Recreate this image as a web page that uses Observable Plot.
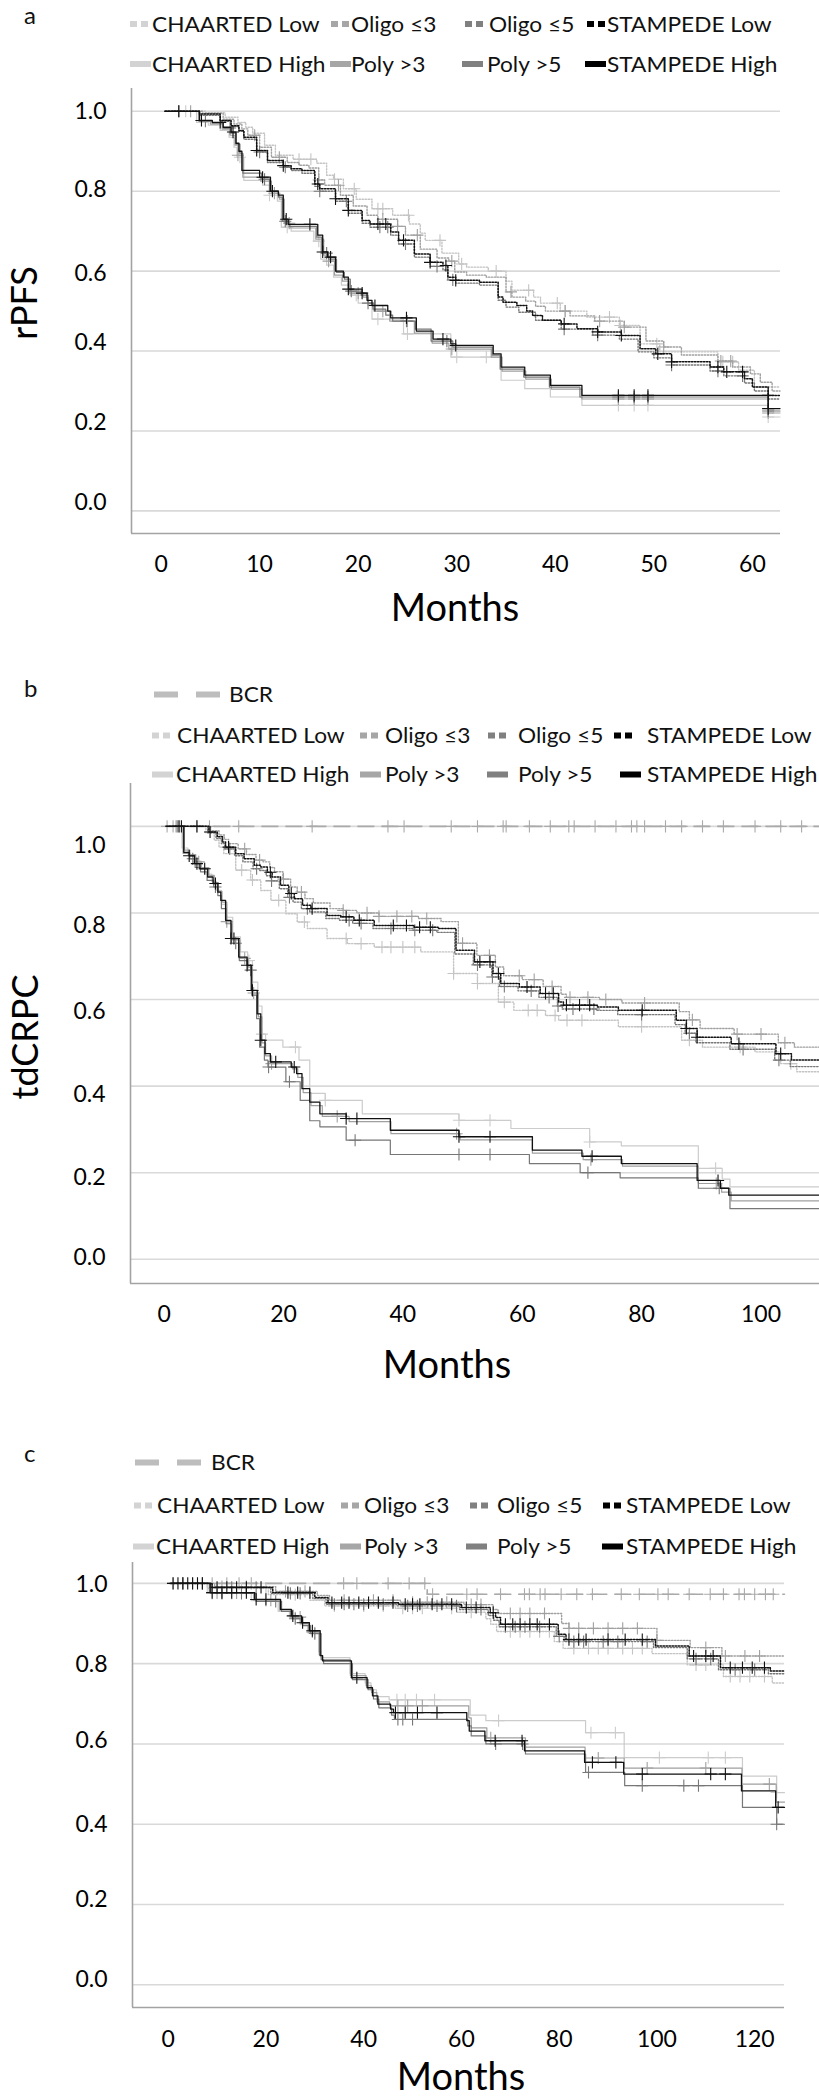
<!DOCTYPE html>
<html>
<head>
<meta charset="utf-8">
<script src="https://cdn.jsdelivr.net/npm/d3@7"></script>
<script src="https://cdn.jsdelivr.net/npm/@observablehq/plot@0.6"></script>
<style>
html,body{margin:0;padding:0;background:#fff;}
#page{position:relative;width:819px;height:2099px;overflow:hidden;background:#fff;font-family:Lato,"Open Sans",sans-serif;}
#page .panel{position:absolute;left:0;}
#overlay{position:absolute;left:0;top:0;pointer-events:none;}
</style>
</head>
<body>
<div id="page"></div>
<script>
// ---------------- shared labels / ticks ----------------
const seriesNames = ["CHAARTED Low","Oligo ≤3","Oligo ≤5","STAMPEDE Low","CHAARTED High","Poly >3","Poly >5","STAMPEDE High"];
const yTicks = [0, 0.2, 0.4, 0.6, 0.8, 1.0];
const xTicksA = [0, 10, 20, 30, 40, 50, 60];
const xTicksB = [0, 20, 40, 60, 80, 100];
const xTicksC = [0, 20, 40, 60, 80, 100, 120];
const yTitleA = "rPFS";
const yTitleB = "tdCRPC";
const xTitle = "Months";
const bcrName = "BCR";

// ---------------- panel a : rPFS  [month, survival] ----------------
const aCHAARTEDLow = [[0.4,1],[4.5,0.996],[6.5,0.985],[7.8,0.972],[8.6,0.96],[9.3,0.945],[10.5,0.915],[11.6,0.89],[13.4,0.88],[15.8,0.87],[16.8,0.84],[17.5,0.83],[18.5,0.806],[19.8,0.78],[21.4,0.756],[23.5,0.74],[25.2,0.718],[26.3,0.695],[26.8,0.677],[28.5,0.645],[30.2,0.618],[31.0,0.61],[33.2,0.6],[35.0,0.575],[35.6,0.552],[37.8,0.535],[38.5,0.52],[40.5,0.5],[43.2,0.485],[46.5,0.464],[48.6,0.418],[50.6,0.398],[56.5,0.373],[58.6,0.352],[60.2,0.31],[62.8,0.31]];
const aOligo3 = [[0.4,1],[4.2,0.995],[6.3,0.98],[7.4,0.968],[8.2,0.956],[8.8,0.94],[10.0,0.91],[11.2,0.885],[12.8,0.872],[14.0,0.865],[15.0,0.858],[16.0,0.828],[16.6,0.815],[18.2,0.79],[19.5,0.763],[20.9,0.74],[22.0,0.73],[24.0,0.712],[24.8,0.69],[26.3,0.655],[28.0,0.633],[29.2,0.625],[29.8,0.598],[31.0,0.59],[33.0,0.585],[35.0,0.548],[35.6,0.535],[37.0,0.525],[38.0,0.512],[39.0,0.5],[41.5,0.488],[44.0,0.475],[47.0,0.46],[49.2,0.425],[51.0,0.41],[52.8,0.39],[56.5,0.375],[58.0,0.36],[59.8,0.343],[60.8,0.322],[62.0,0.3],[62.8,0.3]];
const aOligo5 = [[0.4,1],[3.9,0.99],[6.0,0.975],[7.1,0.962],[7.9,0.95],[8.4,0.93],[9.7,0.898],[10.8,0.872],[12.4,0.86],[13.2,0.852],[14.3,0.845],[15.6,0.812],[16.1,0.8],[17.7,0.775],[19.0,0.745],[20.4,0.72],[21.2,0.71],[23.3,0.69],[24.1,0.668],[25.7,0.635],[27.3,0.612],[28.6,0.603],[29.1,0.578],[29.9,0.57],[32.3,0.565],[34.2,0.527],[35.0,0.51],[36.3,0.497],[38.0,0.477],[40.6,0.455],[43.8,0.44],[46.5,0.43],[48.4,0.398],[50.0,0.383],[51.8,0.365],[55.7,0.35],[57.1,0.338],[59.2,0.32],[60.2,0.3],[61.6,0.28],[62.8,0.28]];
const aSTAMPEDELow = [[0.4,1],[3.9,0.993],[6.0,0.977],[7.1,0.964],[7.9,0.952],[8.4,0.935],[9.7,0.902],[10.8,0.877],[12.4,0.864],[13.2,0.856],[14.3,0.852],[15.6,0.818],[16.1,0.806],[17.7,0.781],[19.0,0.752],[20.4,0.727],[21.2,0.718],[23.3,0.698],[24.1,0.677],[25.7,0.643],[27.3,0.622],[28.6,0.614],[29.1,0.585],[29.9,0.577],[32.3,0.572],[34.2,0.535],[34.7,0.522],[36.1,0.514],[37.1,0.5],[37.7,0.489],[38.7,0.477],[40.6,0.468],[42.2,0.456],[44.3,0.448],[46.7,0.439],[48.6,0.406],[50.2,0.393],[51.8,0.373],[55.7,0.36],[57.1,0.348],[59.2,0.331],[60.0,0.31],[61.6,0.289],[62.8,0.289]];
const aCHAARTEDHigh = [[0.4,1],[3.6,0.972],[4.8,0.965],[6.0,0.952],[6.9,0.935],[7.4,0.91],[7.7,0.885],[8.4,0.827],[10.3,0.815],[11.0,0.79],[11.8,0.775],[12.2,0.71],[13.2,0.7],[15.5,0.675],[16.2,0.63],[16.8,0.615],[17.5,0.585],[18.3,0.565],[19.2,0.54],[20.0,0.52],[21.4,0.48],[24.6,0.443],[29.4,0.385],[34.5,0.327],[36.9,0.306],[39.5,0.285],[42.7,0.264],[61.6,0.235],[62.8,0.235]];
const aPoly3 = [[0.4,1],[3.8,0.975],[5.0,0.968],[6.2,0.955],[7.0,0.94],[7.5,0.915],[7.8,0.89],[8.3,0.835],[10.1,0.825],[11.2,0.795],[12.0,0.78],[12.5,0.72],[13.1,0.708],[15.7,0.68],[16.5,0.64],[17.0,0.625],[17.6,0.59],[18.4,0.575],[19.1,0.545],[20.5,0.535],[21.0,0.515],[21.6,0.5],[23.2,0.475],[25.7,0.445],[27.5,0.42],[29.2,0.405],[33.5,0.385],[34.6,0.35],[37.0,0.33],[39.6,0.305],[42.7,0.28],[61.6,0.245],[62.8,0.245]];
const aPoly5 = [[0.4,1],[3.9,0.975],[5.2,0.97],[6.3,0.958],[7.1,0.945],[7.6,0.918],[8.0,0.895],[8.3,0.845],[10.2,0.83],[11.0,0.8],[11.9,0.785],[12.3,0.725],[13.0,0.712],[15.8,0.685],[16.3,0.645],[17.0,0.63],[17.8,0.597],[18.6,0.58],[19.2,0.55],[20.3,0.54],[21.0,0.52],[21.5,0.505],[22.8,0.49],[23.5,0.475],[25.8,0.455],[27.4,0.425],[29.6,0.41],[33.6,0.39],[34.4,0.355],[36.8,0.335],[39.4,0.31],[42.5,0.285],[61.6,0.25],[62.8,0.25]];
const aSTAMPEDEHigh = [[0.4,1],[3.9,0.977],[5.2,0.972],[6.3,0.96],[7.1,0.948],[7.6,0.92],[7.9,0.9],[8.2,0.852],[10.0,0.835],[11.1,0.8],[11.9,0.79],[12.4,0.73],[12.9,0.717],[15.9,0.69],[16.4,0.648],[16.9,0.635],[17.7,0.6],[18.5,0.585],[19.0,0.555],[20.4,0.545],[20.9,0.527],[21.4,0.514],[23.0,0.5],[23.3,0.483],[25.9,0.45],[27.6,0.43],[29.4,0.418],[29.9,0.414],[33.7,0.393],[34.5,0.36],[36.9,0.34],[39.5,0.314],[42.7,0.289],[61.6,0.256],[62.8,0.256]];
// censored observations (months)
const aCensCHAARTEDLow = [14.0,15.2,17.6,19.6,22.0,22.5,25.1,28.3,30.5,34.0,37.3,40.2,41.0,45.5,46.6,50.3,57.0,58.0];
const aCensOligo3 = [9.5,12.0,16.0,18.0,22.5,24.0,26.0,29.5,35.5,41.0,44.5,47.0,51.0,56.8,57.8];
const aCensOligo5 = [10.0,12.6,16.1,18.8,22.2,23.0,24.8,28.0,29.6,40.9,44.3,51.8,56.5,59.0];
const aCensSTAMPEDELow = [9.7,12.4,15.9,17.7,19.0,22.0,22.8,24.6,27.3,28.9,29.9,40.9,44.3,46.7,50.4,51.8,56.5,57.4,59.0,61.6];
const aCensCHAARTEDHigh = [2.5,8.0,11.0,12.8,16.0,19.8,22.0,25.0,30.0,33.0,46.4,48.0,49.4,61.6];
const aCensPoly3 = [3.0,7.8,11.5,13.0,17.0,20.0,22.5,25.0,29.5,46.4,48.0,49.4,61.6];
const aCensPoly5 = [1.8,4.5,7.0,10.5,12.6,16.8,19.3,21.0,24.9,29.0,46.4,48.0,49.4,61.6];
const aCensSTAMPEDEHigh = [1.8,4.1,6.0,7.3,10.3,11.3,12.7,15.1,16.4,17.2,19.0,20.4,21.7,24.9,28.6,29.9,46.4,48.0,49.4,61.6];

// ---------------- panel b : tdCRPC ----------------
const bBCR = [[0.3,1],[109.8,1]];
const bCensBCR = [0.5,1.5,2.5,5.5,7.6,12.5,24.8,37.5,40.2,48.1,52.5,56.8,57.3,61.2,64.7,67.8,68.7,72.2,75.7,78.3,79.2,80.5,84.0,86.7,90.2,93.7,99.0,103.3,106.8];
const bCHAARTEDLow = [[0.3,1],[7.0,0.985],[8.4,0.968],[9.2,0.952],[10.0,0.937],[12.0,0.899],[14.5,0.876],[16.2,0.852],[17.9,0.829],[20.4,0.798],[22.3,0.779],[24.0,0.764],[27.3,0.741],[30.7,0.729],[35.2,0.721],[43.0,0.71],[48.5,0.66],[52.5,0.637],[56.0,0.594],[58.6,0.575],[63.9,0.563],[66.1,0.552],[76.1,0.537],[86.7,0.506],[90.2,0.49],[99.0,0.479],[103.3,0.452],[106.0,0.433],[109.8,0.433]];
const bOligo3 = [[0.3,1],[7.8,0.99],[9.2,0.98],[10.1,0.97],[10.8,0.96],[12.4,0.948],[13.8,0.935],[15.4,0.922],[16.6,0.918],[17.7,0.905],[18.5,0.895],[19.9,0.878],[21.2,0.86],[22.3,0.848],[23.6,0.833],[25.0,0.823],[27.8,0.81],[30.0,0.806],[32.3,0.8],[36.0,0.792],[42.6,0.787],[46.4,0.78],[49.3,0.73],[52.4,0.702],[55.5,0.675],[56.9,0.655],[60.0,0.646],[63.5,0.63],[66.5,0.612],[67.4,0.605],[73.0,0.6],[76.7,0.592],[86.3,0.572],[88.0,0.553],[89.8,0.533],[95.5,0.52],[102.9,0.5],[105.6,0.49],[109.8,0.49]];
const bOligo5 = [[0.3,1],[7.3,0.985],[8.7,0.972],[9.6,0.96],[10.2,0.948],[11.8,0.932],[13.2,0.918],[14.9,0.902],[16.0,0.898],[17.1,0.886],[18.0,0.874],[19.3,0.856],[20.7,0.836],[21.6,0.825],[23.0,0.81],[24.4,0.802],[27.1,0.787],[29.4,0.783],[31.6,0.776],[35.0,0.764],[41.7,0.76],[45.7,0.755],[48.7,0.705],[51.8,0.68],[54.9,0.652],[56.2,0.63],[59.3,0.62],[62.8,0.605],[65.9,0.585],[66.7,0.578],[72.4,0.575],[76.0,0.565],[85.6,0.542],[87.3,0.522],[89.1,0.5],[94.8,0.485],[102.3,0.46],[104.9,0.445],[109.8,0.445]];
const bSTAMPEDELow = [[0.3,1],[7.5,0.987],[8.9,0.976],[9.8,0.964],[10.3,0.952],[12.0,0.937],[13.4,0.925],[15.1,0.91],[16.2,0.906],[17.3,0.894],[18.1,0.883],[19.5,0.864],[20.9,0.845],[21.8,0.833],[23.2,0.818],[24.6,0.81],[27.3,0.794],[29.6,0.791],[31.8,0.783],[35.2,0.771],[41.9,0.767],[45.9,0.764],[48.9,0.714],[52.0,0.687],[55.1,0.66],[56.4,0.637],[59.5,0.629],[63.0,0.614],[66.1,0.594],[66.9,0.587],[72.6,0.583],[76.1,0.575],[85.8,0.552],[87.5,0.533],[89.3,0.513],[95.0,0.498],[102.5,0.475],[105.1,0.46],[109.8,0.46]];
const bCHAARTEDHigh = [[0.5,1],[3.0,0.95],[4.0,0.935],[5.0,0.92],[6.2,0.905],[7.0,0.89],[8.0,0.872],[8.8,0.852],[9.6,0.82],[10.5,0.79],[11.5,0.745],[12.8,0.71],[14.0,0.69],[14.8,0.64],[15.7,0.585],[16.4,0.52],[17.0,0.506],[19.9,0.49],[22.6,0.46],[24.4,0.383],[27.0,0.367],[33.2,0.336],[49.4,0.321],[58.1,0.302],[71.3,0.271],[76.6,0.262],[89.5,0.21],[93.5,0.185],[94.8,0.167],[109.8,0.167]];
const bPoly3 = [[0.5,1],[3.4,0.945],[4.3,0.935],[5.3,0.918],[6.2,0.905],[7.5,0.887],[8.4,0.87],[9.1,0.85],[9.7,0.825],[10.5,0.78],[11.4,0.738],[12.7,0.695],[14.1,0.675],[14.8,0.615],[15.8,0.56],[16.4,0.5],[17.0,0.47],[18.0,0.452],[21.5,0.44],[22.4,0.42],[23.3,0.385],[24.6,0.355],[26.5,0.33],[31.0,0.318],[38.0,0.29],[49.6,0.276],[61.7,0.245],[70.2,0.23],[76.8,0.215],[89.5,0.175],[93.4,0.155],[95.0,0.135],[109.8,0.135]];
const bPoly5 = [[0.5,1],[3.2,0.938],[4.3,0.925],[5.2,0.905],[6.1,0.895],[7.2,0.875],[8.3,0.86],[9.0,0.84],[9.6,0.81],[10.4,0.775],[11.3,0.73],[12.6,0.69],[14.0,0.668],[14.7,0.61],[15.5,0.556],[16.0,0.49],[16.8,0.46],[17.4,0.444],[20.4,0.41],[22.8,0.367],[24.4,0.32],[26.1,0.306],[30.5,0.275],[37.9,0.242],[61.2,0.221],[69.7,0.2],[76.4,0.188],[89.5,0.164],[94.8,0.117],[109.8,0.117]];
const bSTAMPEDEHigh = [[0.5,1],[3.3,0.94],[4.2,0.932],[5.1,0.914],[6.0,0.902],[7.3,0.883],[8.2,0.868],[9.0,0.848],[9.5,0.829],[10.3,0.783],[11.2,0.741],[12.5,0.698],[13.9,0.679],[14.6,0.621],[15.6,0.567],[16.2,0.506],[16.9,0.475],[17.8,0.456],[21.3,0.444],[22.2,0.429],[23.1,0.394],[24.4,0.363],[26.1,0.336],[30.5,0.325],[37.9,0.298],[49.4,0.283],[61.7,0.252],[70.0,0.238],[76.6,0.221],[89.3,0.182],[93.2,0.164],[94.6,0.148],[109.8,0.148]];
const bCensCHAARTEDLow = [13.0,14.8,19.2,23.5,30.5,33.0,36.5,38.0,40.0,42.0,48.5,52.5,57.0,61.0,62.5,65.5,67.5,70.0,80.0,88.0,96.5,105.0];
const bCensOligo3 = [13.5,16.0,20.0,23.0,30.0,34.0,36.0,39.0,41.5,44.0,50.0,54.5,59.5,62.0,65.0,68.0,71.0,74.0,80.5,88.5,96.0,100.0,104.0];
const bCensOligo5 = [11.0,15.5,18.0,21.0,24.0,31.0,33.0,38.0,42.0,45.0,52.5,55.0,57.0,61.5,64.5,66.0,68.5,72.0,80.0,88.0,97.0,103.0];
const bCensSTAMPEDELow = [2.9,5.5,7.7,10.8,17.8,21.3,24.8,30.5,32.7,38.4,40.6,42.8,44.6,52.9,54.6,56.0,60.8,63.9,65.2,67.4,69.6,71.3,80.1,87.5,89.3,96.3,103.3];
const bCensCHAARTEDHigh = [14.2,16.4,22.0,27.0,49.4,54.6,71.3,92.4];
const bCensPoly3 = [2.0,5.8,10.5,13.5,15.0,18.0,29.0,49.0,71.5,92.5];
const bCensPoly5 = [2.2,4.8,8.6,12.0,14.5,17.5,21.0,32.0,49.4,54.6,71.0,93.0];
const bCensSTAMPEDEHigh = [2.5,4.2,5.5,6.8,8.6,11.2,11.7,13.9,14.8,16.2,18.7,21.8,30.5,32.3,49.4,54.6,71.7,92.8];

// ---------------- panel c ----------------
const cBCR = [[0.3,1],[53.0,0.973],[126.1,0.973]];
const cCensBCR = [1.0,3.0,5.0,7.0,9.0,12.0,14.5,17.0,35.9,38.6,45.0,49.3,52.5,54.1,61.1,63.2,68.0,72.9,73.9,76.1,77.1,80.4,83.6,86.8,92.7,96.4,100.2,102.3,106.6,110.9,113.6,116.8,117.9,120.0,122.2,123.8];
const cCHAARTEDLow = [[0.5,1],[8.0,0.988],[20.5,0.972],[29.0,0.958],[32.0,0.944],[46.5,0.938],[59.0,0.928],[65.0,0.912],[66.0,0.898],[67.2,0.88],[79.0,0.855],[80.8,0.838],[99.0,0.825],[106.2,0.797],[113.6,0.768],[123.6,0.752],[126.1,0.752]];
const cOligo3 = [[0.5,1],[9.5,0.992],[22.0,0.98],[30.5,0.97],[33.0,0.958],[47.5,0.953],[60.5,0.947],[66.5,0.935],[67.5,0.925],[80.5,0.9],[82.0,0.888],[100.0,0.858],[106.8,0.84],[113.3,0.819],[126.1,0.819]];
const cOligo5 = [[0.5,1],[8.5,0.99],[21.0,0.975],[29.6,0.962],[32.3,0.948],[46.8,0.944],[59.6,0.935],[65.5,0.92],[66.6,0.908],[67.7,0.892],[79.4,0.868],[81.0,0.855],[99.3,0.84],[106.2,0.812],[112.6,0.785],[122.8,0.775],[126.1,0.775]];
const cSTAMPEDELow = [[0.5,1],[9.0,0.99],[21.4,0.977],[30.0,0.965],[32.7,0.952],[47.1,0.948],[60.0,0.94],[65.9,0.927],[67.0,0.915],[68.0,0.898],[79.8,0.873],[81.4,0.86],[99.7,0.844],[106.6,0.819],[113.0,0.79],[123.2,0.782],[126.1,0.782]];
const cCHAARTEDHigh = [[0.5,1],[8.0,0.975],[17.0,0.957],[22.5,0.93],[24.8,0.914],[27.0,0.897],[28.5,0.877],[30.8,0.83],[31.3,0.815],[37.2,0.775],[40.3,0.752],[41.5,0.735],[42.6,0.718],[45.2,0.71],[61.8,0.672],[65.0,0.658],[85.4,0.628],[93.3,0.566],[117.5,0.52],[124.5,0.479],[126.1,0.479]];
const cPoly3 = [[0.5,1],[8.4,0.976],[17.5,0.958],[22.8,0.933],[25.0,0.916],[27.1,0.9],[28.7,0.879],[30.9,0.822],[31.4,0.81],[37.3,0.77],[40.5,0.745],[41.6,0.728],[42.7,0.705],[45.3,0.695],[61.5,0.665],[62.0,0.64],[65.2,0.615],[73.1,0.592],[85.3,0.565],[93.3,0.54],[117.4,0.5],[124.4,0.455],[126.1,0.455]];
const cPoly5 = [[0.5,1],[8.8,0.975],[18.0,0.955],[23.2,0.93],[25.4,0.912],[27.5,0.895],[29.1,0.875],[31.3,0.81],[31.8,0.8],[37.7,0.76],[40.9,0.735],[42.0,0.712],[43.1,0.69],[45.7,0.672],[46.3,0.661],[61.3,0.645],[62.0,0.62],[65.0,0.6],[73.1,0.575],[85.4,0.529],[93.4,0.496],[117.5,0.442],[124.5,0.4],[126.1,0.4]];
const cSTAMPEDEHigh = [[0.5,1],[8.6,0.977],[17.7,0.96],[23.0,0.935],[25.2,0.919],[27.3,0.902],[28.9,0.882],[31.1,0.82],[31.6,0.807],[37.5,0.765],[40.7,0.74],[41.8,0.72],[42.9,0.699],[45.5,0.687],[46.1,0.678],[61.1,0.658],[61.6,0.632],[64.8,0.608],[72.9,0.583],[85.2,0.554],[93.2,0.525],[117.3,0.483],[124.3,0.442],[126.1,0.442]];
const cCensCHAARTEDLow = [10,15,20,26,34,40,44,48,50,52,58,62,70,72,74,76,78,83,86,88,90,93,95,97,108,110,115,117,119,122];
const cCensOligo3 = [11,16,24,28,36,42,46,50,53,57,62,64,70,72,74,77,82,84,87,90,93,96,100,110,114,118,121];
const cCensOligo5 = [3,7,13,18,25,27,34,36,38,40,44,49,51,55,59,64,69,71,73,76,80,83,85,89,92,98,108,111,116,120];
const cCensSTAMPEDELow = [2,4,6,10,12,14,16,19,24.5,26.5,29,33.5,35.5,37,39,41,43,46,48.5,50,51.5,54,56,58,61,63,66.5,69,70.5,72,74,75.5,78,82,84,85.5,90,93.5,97,107.5,110,111.5,115,117.5,119.5,122];
const cCensCHAARTEDHigh = [9,13,20,26,30,46.8,48.5,50.8,54.5,67.6,86.5,91.5,100.5,110.5,114,124.5];
const cCensPoly3 = [10,14,21,27,29.5,47,49,52,66,88,98,110,123];
const cCensPoly5 = [11,15,22,26,30,47,48,50,67,72.5,86,97,105.5,108.5,124.5];
const cCensSTAMPEDEHigh = [1,3,5,7,9,11,13,16,18,20,25.5,27.5,29.5,38.6,46.5,48.5,51,55,66.9,72.4,86.8,91.6,97,111,114,124.8];

// ---------------- styles ----------------
const lineStyle = {
  "CHAARTED Low":  {stroke: "#c4c4c4", w: 1.4, dash: "1.4,1.6"},
  "Oligo ≤3":      {stroke: "#a0a0a0", w: 1.4, dash: "1.4,1.6"},
  "Oligo ≤5":      {stroke: "#777777", w: 1.4, dash: "1.4,1.6"},
  "STAMPEDE Low":  {stroke: "#111111", w: 1.5, dash: "1.5,1.5"},
  "CHAARTED High": {stroke: "#cccccc", w: 1.2, dash: null},
  "Poly >3":       {stroke: "#a0a0a0", w: 1.2, dash: null},
  "Poly >5":       {stroke: "#777777", w: 1.2, dash: null},
  "STAMPEDE High": {stroke: "#111111", w: 1.3, dash: null}
};
const swatchColor = {
  "CHAARTED Low": "#d3d3d3", "Oligo ≤3": "#a6a6a6", "Oligo ≤5": "#808080", "STAMPEDE Low": "#000000",
  "CHAARTED High": "#d3d3d3", "Poly >3": "#a6a6a6", "Poly >5": "#808080", "STAMPEDE High": "#000000"
};
const drawOrder = ["CHAARTED High","CHAARTED Low","Poly >3","Oligo ≤3","Poly >5","Oligo ≤5","STAMPEDE High","STAMPEDE Low"];

function stepAt(pts, t) {
  let v = pts[0][1];
  for (const [tt, s] of pts) { if (tt <= t) v = s; else break; }
  return v;
}

function drawPanel(cfg) {
  const marks = [];
  marks.push(Plot.ruleY(yTicks, {stroke: "#d9d9d9", strokeWidth: 1.6}));
  marks.push(Plot.ruleX([cfg.xDomain[0]], {stroke: "#a3a3a3", strokeWidth: 1.6}));
  marks.push(Plot.ruleY([cfg.yDomain[0]], {stroke: "#a3a3a3", strokeWidth: 1.6}));
  if (cfg.bcr) {
    marks.push(Plot.line(cfg.bcr, {x: d => d[0], y: d => d[1], curve: "step-after", stroke: "#aaaaaa", strokeWidth: 1.6, strokeDasharray: "16,8"}));
    marks.push(Plot.dot(cfg.bcrCens.map(t => [t, stepAt(cfg.bcr, t)]), {x: d => d[0], y: d => d[1], symbol: "plus", r: 4, stroke: "#aaaaaa", strokeWidth: 1.1}));
  }
  for (const name of drawOrder) {
    const pts = cfg.curves[name];
    const st = lineStyle[name];
    const opts = {x: d => d[0], y: d => d[1], curve: "step-after", stroke: st.stroke, strokeWidth: st.w};
    if (st.dash) opts.strokeDasharray = st.dash;
    marks.push(Plot.line(pts, opts));
    marks.push(Plot.dot(cfg.cens[name].map(t => [t, stepAt(pts, t)]), {x: d => d[0], y: d => d[1], symbol: "plus", r: 4, stroke: st.stroke, strokeWidth: 1.1}));
  }
  marks.push(Plot.axisX({ticks: cfg.xTicks, tickSize: 0, tickPadding: cfg.xPad, fontSize: 23, label: null}));
  // one y-axis per tick so that each label keeps its own small vertical offset, as in the figure
  yTicks.forEach((t, i) => {
    marks.push(Plot.axisY({ticks: [t], tickFormat: d3.format(".1f"), tickSize: 0, tickPadding: 25, fontSize: 23, label: null, dy: cfg.yLabDy[i]}));
  });
  const svg = Plot.plot({
    width: 819,
    height: cfg.svgHeight,
    marginLeft: cfg.frameLeft,
    marginRight: 819 - cfg.frameRight,
    marginTop: cfg.frameTop - cfg.svgTop,
    marginBottom: cfg.svgTop + cfg.svgHeight - cfg.frameBottom,
    x: {domain: cfg.xDomain},
    y: {domain: cfg.yDomain},
    style: {fontFamily: "Lato, 'Open Sans', sans-serif", fontSize: "23px", color: "#000", background: "transparent", overflow: "visible"},
    marks
  });
  const wrap = document.createElement("div");
  wrap.className = "panel";
  wrap.style.top = cfg.svgTop + "px";
  wrap.appendChild(svg);
  document.getElementById("page").appendChild(wrap);
}

drawPanel({
  svgTop: 80, svgHeight: 560, frameTop: 88, frameBottom: 533, frameLeft: 131, frameRight: 780,
  xDomain: [-3.0, 62.85], yDomain: [-0.0565, 1.057], xTicks: xTicksA, xPad: 22, yLabDy: [-8, -8, -8, 2, -2, 0],
  curves: {"CHAARTED Low": aCHAARTEDLow, "Oligo ≤3": aOligo3, "Oligo ≤5": aOligo5, "STAMPEDE Low": aSTAMPEDELow,
           "CHAARTED High": aCHAARTEDHigh, "Poly >3": aPoly3, "Poly >5": aPoly5, "STAMPEDE High": aSTAMPEDEHigh},
  cens: {"CHAARTED Low": aCensCHAARTEDLow, "Oligo ≤3": aCensOligo3, "Oligo ≤5": aCensOligo5, "STAMPEDE Low": aCensSTAMPEDELow,
         "CHAARTED High": aCensCHAARTEDHigh, "Poly >3": aCensPoly3, "Poly >5": aCensPoly5, "STAMPEDE High": aCensSTAMPEDEHigh}
});
drawPanel({
  svgTop: 775, svgHeight: 620, frameTop: 783, frameBottom: 1283, frameLeft: 130, frameRight: 819,
  xDomain: [-5.63, 109.8], yDomain: [-0.056, 1.099], xTicks: xTicksB, xPad: 22, yLabDy: [-2, 5, 9, 12, 13, 19],
  bcr: bBCR, bcrCens: bCensBCR,
  curves: {"CHAARTED Low": bCHAARTEDLow, "Oligo ≤3": bOligo3, "Oligo ≤5": bOligo5, "STAMPEDE Low": bSTAMPEDELow,
           "CHAARTED High": bCHAARTEDHigh, "Poly >3": bPoly3, "Poly >5": bPoly5, "STAMPEDE High": bSTAMPEDEHigh},
  cens: {"CHAARTED Low": bCensCHAARTEDLow, "Oligo ≤3": bCensOligo3, "Oligo ≤5": bCensOligo5, "STAMPEDE Low": bCensSTAMPEDELow,
         "CHAARTED High": bCensCHAARTEDHigh, "Poly >3": bCensPoly3, "Poly >5": bCensPoly5, "STAMPEDE High": bCensSTAMPEDEHigh}
});
drawPanel({
  svgTop: 1555, svgHeight: 544, frameTop: 1562, frameBottom: 2007, frameLeft: 132, frameRight: 784,
  xDomain: [-7.3, 126.1], yDomain: [-0.0565, 1.052], xTicks: xTicksC, xPad: 23, yLabDy: [-5, -5, 0, -3, 1, 1],
  bcr: cBCR, bcrCens: cCensBCR,
  curves: {"CHAARTED Low": cCHAARTEDLow, "Oligo ≤3": cOligo3, "Oligo ≤5": cOligo5, "STAMPEDE Low": cSTAMPEDELow,
           "CHAARTED High": cCHAARTEDHigh, "Poly >3": cPoly3, "Poly >5": cPoly5, "STAMPEDE High": cSTAMPEDEHigh},
  cens: {"CHAARTED Low": cCensCHAARTEDLow, "Oligo ≤3": cCensOligo3, "Oligo ≤5": cCensOligo5, "STAMPEDE Low": cCensSTAMPEDELow,
         "CHAARTED High": cCensCHAARTEDHigh, "Poly >3": cCensPoly3, "Poly >5": cCensPoly5, "STAMPEDE High": cCensSTAMPEDEHigh}
});

// ---------------- titles, legends & panel letters (overlay) ----------------
const ov = d3.select("#page").append("svg").attr("id", "overlay").attr("width", 819).attr("height", 2099)
  .style("font-family", "Lato, 'Open Sans', sans-serif");
const textScale = 1.08;
function legendText(x, baseline, label, size) {
  ov.append("text").attr("transform", `translate(${x},${baseline}) scale(${textScale},1)`)
    .attr("font-size", size).attr("fill", "#111").text(label);
}
function legendRow(items, baseline) {
  const top = baseline - 10.5;
  for (const [name, sx, tx] of items) {
    const c = swatchColor[name];
    if (name.endsWith("Low") || name.startsWith("Oligo")) {
      ov.append("rect").attr("x", sx).attr("y", top).attr("width", 7).attr("height", 6).attr("fill", c);
      ov.append("rect").attr("x", sx + 11).attr("y", top).attr("width", 7).attr("height", 6).attr("fill", c);
    } else {
      ov.append("rect").attr("x", sx).attr("y", top).attr("width", 21).attr("height", 6).attr("fill", c);
    }
    legendText(tx, baseline, name, 21);
  }
}
function bcrRow(x1, x2, tx, baseline) {
  const top = baseline - 10.5;
  ov.append("rect").attr("x", x1).attr("y", top).attr("width", 24).attr("height", 6).attr("fill", "#bdbdbd");
  ov.append("rect").attr("x", x2).attr("y", top).attr("width", 24).attr("height", 6).attr("fill", "#bdbdbd");
  legendText(tx, baseline, bcrName, 21);
}
function letter(ch, baseline) {
  ov.append("text").attr("x", 24).attr("y", baseline).attr("font-size", 24).attr("fill", "#111").text(ch);
}
function xLabel(cx, baseline) {
  ov.append("text").attr("x", cx).attr("y", baseline).attr("text-anchor", "middle")
    .attr("font-size", 38).attr("fill", "#000").text(xTitle);
}
function yLabel(label, cx, cy) {
  ov.append("text").attr("transform", `translate(${cx},${cy}) rotate(-90)`).attr("text-anchor", "middle")
    .attr("font-size", 36).attr("fill", "#000").text(label);
}
// panel a
letter("a", 24);
legendRow([[seriesNames[0],130,152],[seriesNames[1],331,351],[seriesNames[2],465,489],[seriesNames[3],587,607]], 31.5);
legendRow([[seriesNames[4],130,152],[seriesNames[5],330,351],[seriesNames[6],462,487],[seriesNames[7],585,607]], 71.5);
yLabel(yTitleA, 36.5, 303);
xLabel(455, 621);
// panel b
letter("b", 697);
bcrRow(154, 196, 229, 702);
legendRow([[seriesNames[0],152,177],[seriesNames[1],360,385],[seriesNames[2],488,518],[seriesNames[3],614,647]], 743);
legendRow([[seriesNames[4],152,176],[seriesNames[5],360,385],[seriesNames[6],487,518],[seriesNames[7],620,647]], 782);
yLabel(yTitleB, 38, 1037);
xLabel(447, 1378);
// panel c
letter("c", 1462);
bcrRow(135, 177, 211, 1470);
legendRow([[seriesNames[0],134,157],[seriesNames[1],341,364],[seriesNames[2],470,497],[seriesNames[3],603,626]], 1513);
legendRow([[seriesNames[4],133,156],[seriesNames[5],340,364],[seriesNames[6],466,497],[seriesNames[7],602,626]], 1554);
xLabel(461, 2090);
</script>
</body>
</html>
